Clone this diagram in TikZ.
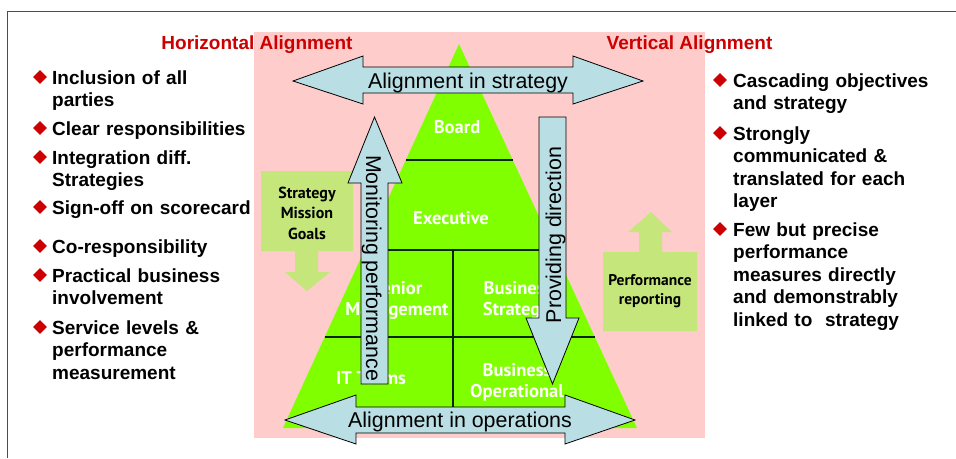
\documentclass[tikz,border=0pt]{standalone}
\usepackage{fontspec}
\setmainfont{Liberation Sans}
\newfontfamily\ptsans{PT Sans}
\usetikzlibrary{positioning,shapes.geometric,calc}

\definecolor{bgpink}{RGB}{255,204,204}
\definecolor{pyrgreen}{RGB}{128,255,0}
\definecolor{arrblue}{RGB}{185,223,228}
\definecolor{boxgreen}{RGB}{196,230,122}
\definecolor{headred}{RGB}{204,0,0}

\begin{document}
\begin{tikzpicture}[x=1pt,y=-1pt,
   bul/.style={diamond, fill=headred, inner sep=0pt, minimum width=14pt, minimum height=14pt},
   itm/.style={anchor=base west, inner sep=0pt, text width=230pt, align=left,
               font=\fontsize{19}{22.6}\selectfont\bfseries},
   head/.style={anchor=base, text=headred, inner sep=0pt, font=\fontsize{19}{23}\selectfont\bfseries},
   layer/.style={text=white, inner sep=0pt, align=center, font=\ptsans\fontsize{18.5}{21}\selectfont\bfseries},
   goal/.style={inner sep=0pt, align=center, font=\ptsans\fontsize{16}{20.5}\selectfont\bfseries},
   blk/.style={draw=black, line width=0.8pt, fill=arrblue},
   blklabel/.style={anchor=base, inner sep=0pt, font=\fontsize{21.4}{24}\selectfont},
   cell/.style={draw=black!85!green, line width=1.8pt}]
   \useasboundingbox (0,0) rectangle (956,458);

   % frame and background
   \draw[black!70, line width=1pt] (7,458) -- (7,11) -- (956,11);
   \fill[bgpink] (254,32) rectangle (705,438);

   \node[head] (horiz) at (257,49)   {Horizontal Alignment};
   \node[head] (vert)  at (689.5,49) {Vertical Alignment};

   % left list
   \node[bul] (l1) at (40,77)  {};
   \node[itm] (lt1) at (52,84)  {Inclusion of all\\parties};
   \node[bul] (l2) at (40,128) {};
   \node[itm] (lt2) at (52,135) {Clear responsibilities};
   \node[bul] (l3) at (40,157) {};
   \node[itm] (lt3) at (52,164) {Integration diff.\\Strategies};
   \node[bul] (l4) at (40,207) {};
   \node[itm] (lt4) at (52,214) {Sign-off on scorecard};
   \node[bul] (l5) at (40,246) {};
   \node[itm] (lt5) at (52,253) {Co-responsibility};
   \node[bul] (l6) at (40,275) {};
   \node[itm] (lt6) at (52,282) {Practical business\\involvement};
   \node[bul] (l7) at (40,327) {};
   \node[itm] (lt7) at (52,334) {Service levels \&\\performance\\measurement};

   % right list
   \node[bul] (r1) at (720,80)  {};
   \node[itm] (rt1) at (733,87)  {Cascading objectives\\and strategy};
   \node[bul] (r2) at (720,133) {};
   \node[itm] (rt2) at (733,140) {Strongly\\communicated \&\\translated for each\\layer};
   \node[bul] (r3) at (720,229) {};
   \node[itm] (rt3) at (733,236) {Few but precise\\performance\\measures directly\\and demonstrably\\linked to\ \ strategy};

   % pyramid
   \coordinate (apex) at (459,44);
   \coordinate (bl) at (283,428);
   \coordinate (br) at (637,428);
   \fill[pyrgreen] (apex) -- (bl) -- (br) -- cycle;
   \draw[cell] ($(apex)!.302!(bl)$) -- ($(apex)!.302!(br)$);
   \draw[cell] ($(apex)!.536!(bl)$) -- ($(apex)!.536!(br)$);
   \draw[cell] ($(apex)!.763!(bl)$) -- ($(apex)!.763!(br)$);
   \draw[cell] (453,250) -- (453,407);

   \node[layer] (board) at (457,127) {Board};
   \node[layer] (exec)  at (451,218) {Executive};
   \node[layer] (snr)   at (397,300) {Senior\\Management};
   \node[layer] (bstr)  at (518,300) {Business\\Strategic};
   \node[layer] (itt)   at (371,378) {IT Teams};
   \node[layer] (bop)   at (517,382) {Business\\Operational};

   % side boxes
   \fill[boxgreen] (261,171) -- (353,171) -- (353,251) -- (318,251) -- (318,272) -- (330,272)
      -- (307,291) -- (285,272) -- (295,272) -- (295,251) -- (261,251) -- cycle;
   \node[goal] (smg) at (307,213) {Strategy\\Mission\\Goals};
   \fill[boxgreen] (603,252) -- (639,252) -- (639,232) -- (628,232) -- (651,212) -- (672,232)
      -- (662,232) -- (662,252) -- (697,252) -- (697,331) -- (603,331) -- cycle;
   \node[goal, font=\ptsans\fontsize{15.5}{19}\selectfont\bfseries] (perf) at (650,291.5) {Performance\\reporting};

   % block arrows
   \draw[blk] (293,81) -- (363,56) -- (363,67) -- (573,67) -- (573,56) -- (643,81)
      -- (573,104) -- (573,93) -- (363,93) -- (363,104) -- cycle;
   \node[blklabel] (strat) at (468,88.5) {Alignment in strategy};
   \draw[blk] (285,420) -- (356,395) -- (356,407) -- (565,407) -- (565,395) -- (635,420)
      -- (565,444) -- (565,433) -- (356,433) -- (356,444) -- cycle;
   \node[blklabel] (oper) at (460,427.5) {Alignment in operations};
   \draw[blk] (361,384) -- (361,183) -- (348,183) -- (374.5,117) -- (402,183) -- (388,183)
      -- (388,384) -- cycle;
   \node[blklabel, rotate=-90] (mon) at (366,268) {Monitoring performance};
   \draw[blk] (539,117) -- (566,117) -- (566,318) -- (579,318) -- (552.5,384) -- (526,318)
      -- (539,318) -- cycle;
   \node[blklabel, rotate=90] (prov) at (561,235) {Providing direction};
\end{tikzpicture}
\end{document}
